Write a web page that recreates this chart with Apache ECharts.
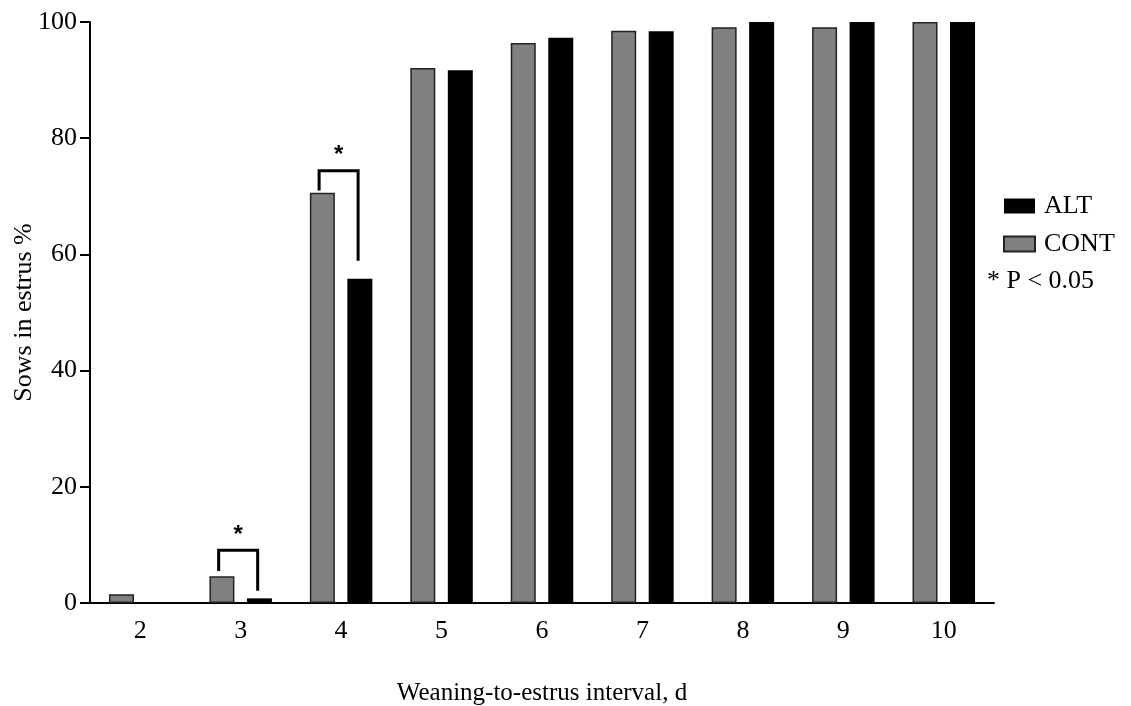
<!DOCTYPE html>
<html>
<head>
<meta charset="utf-8">
<script src="https://cdn.jsdelivr.net/npm/echarts@6/dist/echarts.min.js"></script>
<style>
    html, body {margin: 0; padding: 0; background: #fff;}
    #main {width: 1131px; height: 706px;}
</style>
</head>
<body>
<div id="main"></div>
<script>
// data
var days = ['2', '3', '4', '5', '6', '7', '8', '9', '10'];
var contValues = [1.5, 4.6, 70.6, 92.1, 96.4, 98.5, 99.1, 99.1, 100];
var altValues = [0, 0.8, 55.8, 91.7, 97.3, 98.4, 100, 100, 100];

// significance brackets: category, left leg end, right leg end, top
var sigDays = ['3', '4'];
var sigLeft = [5.5, 71];
var sigRight = [2.1, 58.9];
var sigTop = [9.1, 74.4];

var FONT = 'Liberation Serif';

var sigData = [];
for (var i = 0; i < sigDays.length; i++) {
    sigData.push([days.indexOf(sigDays[i]), sigLeft[i], sigRight[i], sigTop[i]]);
}

var chart = echarts.init(document.getElementById('main'));
chart.setOption({
    animation: false,
    textStyle: {fontFamily: FONT, color: '#000'},
    grid: {left: 90, right: 137, top: 22, bottom: 103, containLabel: false, outerBoundsMode: 'none'},
    legend: {
        data: ['ALT', 'CONT'],
        orient: 'vertical',
        left: 998,
        top: 188,
        itemWidth: 31,
        itemHeight: 15,
        itemGap: 12,
        icon: 'rect',
        textStyle: {fontFamily: FONT, fontSize: 26, color: '#000', padding: [0, 0, 0, 4]}
    },
    graphic: [{
        type: 'text',
        left: 987,
        top: 268,
        style: {text: '* P < 0.05', font: '26px "Liberation Serif"', fill: '#000'}
    }],
    xAxis: {
        type: 'category',
        data: days,
        name: 'Weaning-to-estrus interval, d',
        nameLocation: 'middle',
        nameGap: 78,
        nameMoveOverlap: false,
        nameTextStyle: {fontFamily: FONT, fontSize: 25, color: '#000'},
        axisLine: {lineStyle: {color: '#000', width: 2}},
        axisTick: {alignWithLabel: true, length: 10, lineStyle: {color: '#000', width: 2}},
        axisLabel: {fontFamily: FONT, fontSize: 26, color: '#000', margin: 15}
    },
    yAxis: {
        type: 'value',
        min: 0,
        max: 100,
        interval: 20,
        name: 'Sows in estrus %',
        nameLocation: 'middle',
        nameGap: 53,
        nameMoveOverlap: false,
        nameTextStyle: {fontFamily: FONT, fontSize: 26, color: '#000'},
        splitLine: {show: false},
        axisLine: {show: true, lineStyle: {color: '#000', width: 2}},
        axisTick: {show: true, length: 10, lineStyle: {color: '#000', width: 2}},
        axisLabel: {fontFamily: FONT, fontSize: 26, color: '#000', margin: 13}
    },
    series: [
        {
            name: 'CONT',
            type: 'bar',
            data: contValues,
            barWidth: 25,
            barGap: '50%',
            itemStyle: {color: '#808080', borderColor: '#222', borderWidth: 1.5}
        },
        {
            name: 'ALT',
            type: 'bar',
            data: altValues,
            barWidth: 25,
            barGap: '50%',
            itemStyle: {color: '#000'}
        },
        {
            type: 'custom',
            silent: true,
            clip: false,
            data: sigData,
            renderItem: function (params, api) {
                var idx = api.value(0);
                var cx = api.coord([idx, 0])[0];
                var xl = cx - 22;
                var xr = cx + 17;
                var yl = api.coord([idx, api.value(1)])[1];
                var yr = api.coord([idx, api.value(2)])[1];
                var yt = api.coord([idx, api.value(3)])[1];
                return {
                    type: 'group',
                    children: [{
                        type: 'polyline',
                        shape: {points: [[xl, yl], [xl, yt], [xr, yt], [xr, yr]]},
                        style: {stroke: '#000', lineWidth: 3, fill: null}
                    }, {
                        type: 'text',
                        style: {
                            text: '*',
                            x: (xl + xr) / 2,
                            y: yt - 3,
                            textAlign: 'center',
                            textVerticalAlign: 'bottom',
                            font: 'bold 24px "Liberation Sans"',
                            fill: '#000'
                        }
                    }]
                };
            }
        }
    ]
});
</script>
</body>
</html>
